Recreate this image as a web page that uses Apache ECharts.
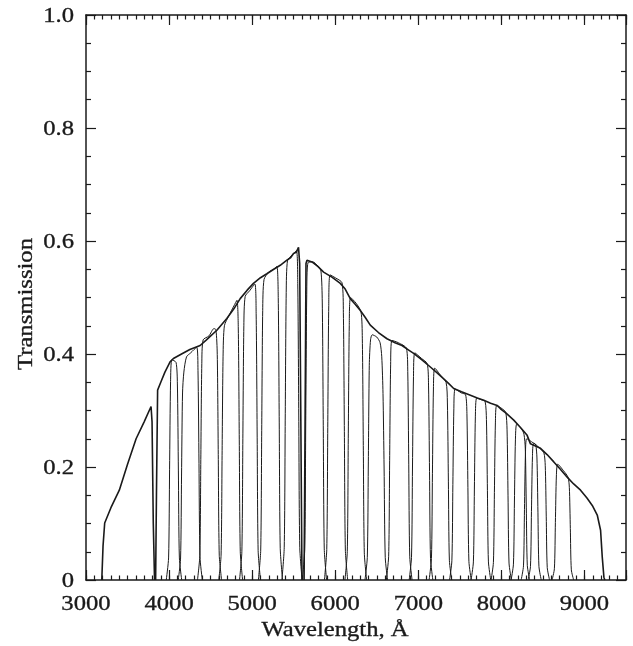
<!DOCTYPE html>
<html>
<head>
<meta charset="utf-8">
<script src="https://cdn.jsdelivr.net/npm/echarts@6/dist/echarts.min.js"></script>
<style>html,body{margin:0;padding:0;background:#fff}#c{width:633px;height:646px}</style>
</head>
<body>
<div id="c"></div>
<script>
// ---- data (wavelength in Å, transmission) ----
var xTickLabels = [3000, 4000, 5000, 6000, 7000, 8000, 9000];
var yTickValues = [0, 0.2, 0.4, 0.6, 0.8, 1.0];
var yTickLabels = ['0', '0.2', '0.4', '0.6', '0.8', '1.0'];

var envelopeUV = [[3190,0],[3205,0.06],[3225,0.101],[3300,0.128],[3401,0.159],[3500,0.205],[3603,0.25],[3700,0.28],[3783,0.307],[3795,0.28],[3810,0.1],[3825,0]];
var envelopeBlue = [[3838,0],[3848,0.15],[3862,0.336],[3900,0.35],[3950,0.368],[4012,0.386],[4052,0.392],[4150,0.4],[4250,0.408],[4374,0.415],[4450,0.425],[4575,0.442],[4695,0.463],[4780,0.48],[4856,0.498],[4940,0.513],[5016,0.525],[5100,0.535],[5177,0.542],[5260,0.55],[5338,0.557],[5418,0.566],[5460,0.57],[5498,0.578],[5530,0.58],[5558,0.589],[5572,0.56],[5585,0.3],[5600,0]];
var envelopeRed = [[5625,0],[5638,0.3],[5648,0.56],[5660,0.566],[5720,0.563],[5790,0.555],[5860,0.545],[5960,0.536],[6061,0.525],[6120,0.515],[6181,0.498],[6240,0.488],[6302,0.477],[6360,0.465],[6422,0.451],[6520,0.438],[6623,0.427],[6720,0.42],[6804,0.415],[6884,0.407],[6944,0.401],[7040,0.39],[7145,0.377],[7230,0.366],[7306,0.356],[7370,0.347],[7426,0.339],[7520,0.333],[7627,0.327],[7710,0.322],[7788,0.318],[7870,0.313],[7949,0.309],[7989,0.303],[8060,0.295],[8149,0.283],[8230,0.27],[8310,0.256],[8350,0.241],[8410,0.237],[8471,0.233],[8550,0.222],[8631,0.209],[8710,0.196],[8792,0.182],[8870,0.17],[8953,0.159],[9030,0.145],[9094,0.132],[9154,0.115],[9194,0.088],[9214,0.041],[9234,0.005],[9245,0]];

var f01 = [[3966,0],[3994,0.039],[4006,0.195],[4018,0.351],[4034,0.39],[4084,0.385],[4100,0.347],[4112,0.193],[4124,0.039],[4152,0]];
var f02 = [[4110,0],[4138,0.037],[4150,0.184],[4162,0.331],[4178,0.368],[4210,0.395],[4260,0.402],[4332,0.412],[4348,0.371],[4360,0.206],[4372,0.041],[4400,0]];
var f03 = [[4342,0],[4370,0.043],[4382,0.213],[4394,0.383],[4410,0.425],[4480,0.432],[4540,0.445],[4564,0.443],[4580,0.399],[4592,0.222],[4604,0.044],[4632,0]];
var f04 = [[4598,0],[4626,0.044],[4638,0.22],[4650,0.396],[4666,0.45],[4720,0.468],[4780,0.485],[4817,0.495],[4833,0.446],[4845,0.248],[4857,0.05],[4885,0]];
var f05 = [[4848,0],[4876,0.05],[4888,0.25],[4900,0.45],[4916,0.502],[4970,0.512],[5032,0.524],[5048,0.472],[5060,0.262],[5072,0.052],[5100,0]];
var f06 = [[5075,0],[5103,0.053],[5115,0.265],[5127,0.477],[5143,0.532],[5200,0.545],[5260,0.55],[5298,0.555],[5314,0.5],[5326,0.278],[5338,0.056],[5366,0]];
var f07 = [[5358,0],[5386,0.057],[5398,0.283],[5410,0.509],[5426,0.566],[5480,0.575],[5533,0.583],[5549,0.525],[5561,0.292],[5573,0.058],[5601,0]];
var f08 = [[5605,0],[5633,0.056],[5645,0.28],[5657,0.505],[5673,0.562],[5730,0.563],[5790,0.556],[5828,0.547],[5844,0.492],[5856,0.273],[5868,0.055],[5896,0]];
var f09 = [[5870,0],[5898,0.054],[5910,0.27],[5922,0.486],[5938,0.54],[6000,0.535],[6082,0.526],[6098,0.473],[6110,0.263],[6122,0.053],[6150,0]];
var f10 = [[6117,0],[6145,0.05],[6157,0.25],[6169,0.45],[6185,0.5],[6250,0.49],[6310,0.475],[6326,0.428],[6338,0.238],[6350,0.048],[6378,0]];
var f11 = [[6358,0],[6386,0.04],[6398,0.2],[6410,0.38],[6425,0.425],[6445,0.434],[6500,0.43],[6540,0.42],[6560,0.395],[6575,0.33],[6588,0.2],[6602,0.04],[6630,0]];
var f12 = [[6615,0],[6643,0.042],[6655,0.212],[6667,0.382],[6683,0.424],[6760,0.42],[6857,0.41],[6873,0.369],[6885,0.205],[6897,0.041],[6925,0]];
var f13 = [[6890,0],[6918,0.04],[6930,0.2],[6942,0.36],[6958,0.402],[7040,0.392],[7107,0.383],[7123,0.345],[7135,0.192],[7147,0.038],[7175,0]];
var f14 = [[7130,0],[7158,0.038],[7170,0.188],[7182,0.338],[7198,0.375],[7270,0.362],[7334,0.35],[7350,0.315],[7362,0.175],[7374,0.035],[7402,0]];
var f15 = [[7376,0],[7404,0.034],[7416,0.169],[7428,0.304],[7444,0.338],[7520,0.331],[7569,0.328],[7585,0.295],[7597,0.164],[7609,0.033],[7637,0]];
var f16 = [[7635,0],[7663,0.032],[7675,0.161],[7687,0.29],[7703,0.322],[7760,0.319],[7804,0.316],[7820,0.284],[7832,0.158],[7844,0.032],[7872,0]];
var f17 = [[7876,0],[7904,0.031],[7916,0.155],[7928,0.278],[7944,0.309],[8010,0.303],[8052,0.297],[8068,0.267],[8080,0.149],[8092,0.03],[8120,0]];
var f18 = [[8117,0],[8145,0.028],[8157,0.138],[8169,0.248],[8185,0.276],[8240,0.268],[8272,0.258],[8288,0.232],[8300,0.129],[8312,0.026],[8340,0]];
var f19 = [[8238,0],[8266,0.025],[8278,0.125],[8290,0.225],[8306,0.25],[8380,0.243],[8412,0.24],[8428,0.216],[8440,0.12],[8452,0.024],[8480,0]];
var f20 = [[8322,0],[8350,0.024],[8362,0.121],[8374,0.218],[8390,0.242],[8470,0.232],[8512,0.225],[8528,0.203],[8540,0.113],[8552,0.022],[8580,0]];
var f21 = [[8610,0],[8638,0.02],[8650,0.102],[8662,0.184],[8678,0.205],[8750,0.193],[8802,0.182],[8818,0.164],[8830,0.091],[8842,0.018],[8870,0]];

var filters = [f01,f02,f03,f04,f05,f06,f07,f08,f09,f10,f11,f12,f13,f14,f15,f16,f17,f18,f19,f20,f21];
var envelopes = [envelopeUV, envelopeBlue, envelopeRed];

// ---- chart ----
var FONT = '"Liberation Serif","Times New Roman",serif';
var INK = '#1a1a1a';
var FS = 22, SX = 1.12;
var chart = echarts.init(document.getElementById('c'), null, {renderer: 'canvas'});

var series = [];
filters.forEach(function (f, i) {
  series.push({type: 'line', name: 'f' + i, data: f, xAxisIndex: 0, yAxisIndex: 0,
    showSymbol: false, symbol: 'none', smooth: 0.25, lineStyle: {color: INK, width: 1}, z: 2, silent: true});
});
envelopes.forEach(function (e, i) {
  series.push({type: 'line', name: 'env' + i, data: e, xAxisIndex: 0, yAxisIndex: 0,
    showSymbol: false, symbol: 'none', lineStyle: {color: INK, width: 1.6}, z: 3, silent: true});
});

var xMin = 3000, xMax = 9500;
function xAxisDef(pos, interval, tickLen, showLine) {
  return {
    type: 'value', position: pos, min: xMin, max: xMax, interval: interval,
    axisLine: {show: showLine, onZero: false, lineStyle: {color: INK, width: 1.5}},
    axisTick: {show: true, inside: true, length: tickLen, lineStyle: {color: INK, width: 1.2}},
    axisLabel: {show: false},
    splitLine: {show: false}
  };
}
function yAxisDef(pos) {
  return {
    type: 'value', position: pos, min: 0, max: 1, interval: 0.2,
    axisLine: {show: true, onZero: false, lineStyle: {color: INK, width: 1.5}},
    axisTick: {show: true, inside: true, length: 10, lineStyle: {color: INK, width: 1.2}},
    minorTick: {show: true, splitNumber: 4, length: 5, lineStyle: {color: INK, width: 1.2}},
    axisLabel: {show: false},
    splitLine: {show: false}
  };
}

chart.setOption({
  animation: false,
  backgroundColor: '#fff',
  grid: {left: 86, right: 7, top: 15, bottom: 66, containLabel: false},
  xAxis: [
    xAxisDef('bottom', 1000, 10, true),
    xAxisDef('bottom', 100, 4.5, false),
    xAxisDef('top', 1000, 10, true),
    xAxisDef('top', 100, 4.5, false)
  ],
  yAxis: [yAxisDef('left'), yAxisDef('right')],
  series: series
});

// tick labels placed through the axes' own scales
function txt(s, x, y, align, rot) {
  return {type: 'text', x: x, y: y, scaleX: SX, rotation: rot || 0, silent: true,
    style: {text: s, fontFamily: FONT, fontSize: FS, fill: INK, stroke: INK, lineWidth: 0.35,
      align: align, verticalAlign: 'middle'}};
}
var gfx = [];
var yBottom = chart.convertToPixel({yAxisIndex: 0}, 0);
var xLeft = chart.convertToPixel({xAxisIndex: 0}, xMin);
xTickLabels.forEach(function (v) {
  gfx.push(txt(String(v), chart.convertToPixel({xAxisIndex: 0}, v), yBottom + 24, 'center'));
});
yTickValues.forEach(function (v, i) {
  gfx.push(txt(yTickLabels[i], xLeft - 12, chart.convertToPixel({yAxisIndex: 0}, v) + 1, 'right'));
});
gfx.push(txt('Wavelength, Å', 335, 630, 'center'));
gfx.push(txt('Transmission', 26, 304, 'center', Math.PI / 2));
chart.setOption({graphic: gfx});
</script>
</body>
</html>
